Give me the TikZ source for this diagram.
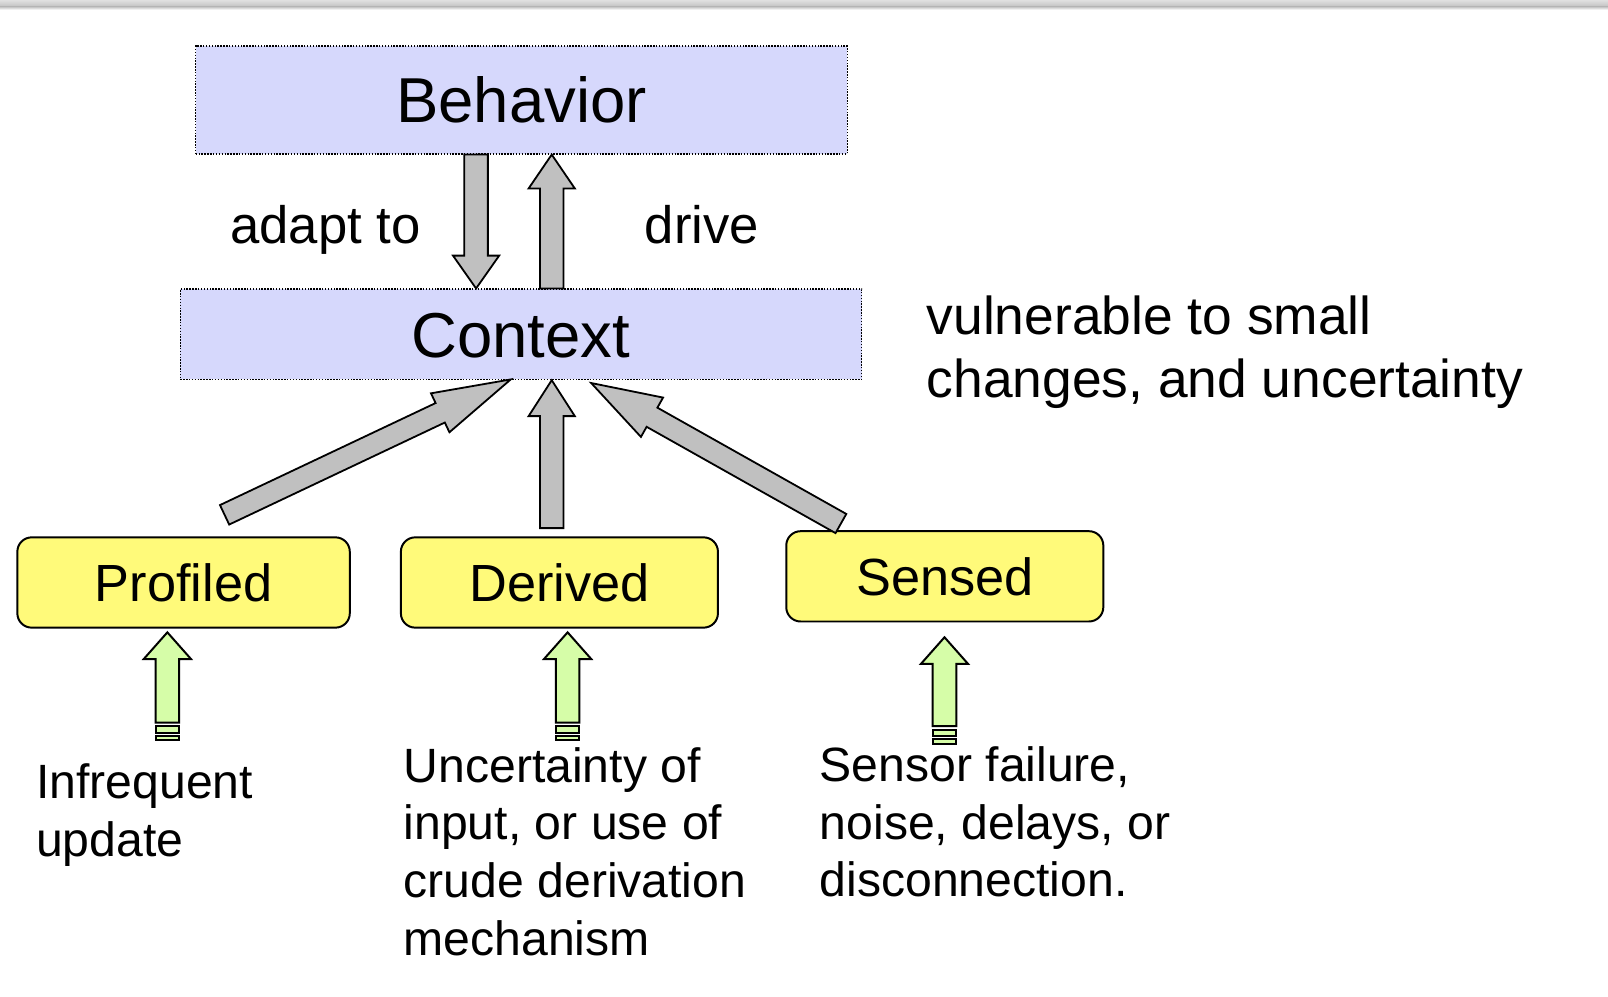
\documentclass[tikz,border=0pt]{standalone}
\usepackage{fontspec}
\setmainfont{Liberation Sans}
\usetikzlibrary{calc}

\definecolor{boxblue}{RGB}{214,216,252}
\definecolor{boxyellow}{RGB}{255,250,122}
\definecolor{arrowgray}{RGB}{192,192,192}
\definecolor{arrowgreen}{RGB}{214,253,168}

% Block arrow: #1 tail, #2 tip, #3 half shaft width, #4 half head width,
% #5 head length, #6 style
\newcommand\blockarrow[6]{%
  \coordinate (ba-base) at ($(#2)!#5!(#1)$);
  \draw[#6] ($(#1)!#3!90:(#2)$) -- ($(ba-base)!#3!90:(#2)$)
    -- ($(ba-base)!#4!90:(#2)$) -- (#2)
    -- ($(ba-base)!#4!-90:(#2)$) -- ($(ba-base)!#3!-90:(#2)$)
    -- ($(#1)!#3!-90:(#2)$) -- cycle;}

% Upward arrow with two stripes below its tail: #1 tail, #2 tip
\newcommand\stripedarrow[2]{%
  \blockarrow{#1}{#2}{0.115cm}{0.23cm}{0.26cm}{greenarrow}
  \draw[greenarrow] ($(#1)+(-11.5,3.5)$) rectangle ($(#1)+(11.5,10)$);
  \draw[greenarrow] ($(#1)+(-11.5,13)$) rectangle ($(#1)+(11.5,17.3)$);}

\tikzset{
  bluebox/.style={draw=black, line width=0.4pt, dash pattern=on 0.4pt off 0.4pt,
    fill=boxblue, inner sep=0pt, font=\fontsize{17.6pt}{20pt}\selectfont,
    text height=12.6pt, text depth=0pt},
  yellowbox/.style={draw=black, line width=0.55pt, fill=boxyellow,
    rounded corners=0.14cm, inner sep=0pt, minimum height=0.88cm,
    font=\fontsize{14.5pt}{17pt}\selectfont, text height=10.4pt, text depth=0pt},
  grayarrow/.style={draw=black, line width=0.5pt, fill=arrowgray, line join=miter},
  greenarrow/.style={draw=black, line width=0.55pt, fill=arrowgreen, line join=miter},
  midlabel/.style={inner sep=0pt, anchor=base west, font=\fontsize{14.6pt}{17pt}\selectfont},
  % multi-line labels are placed by the baseline of their last line
  sidelabel/.style={inner sep=0pt, anchor=base west, align=left,
    font=\fontsize{14.8pt}{17.6pt}\selectfont},
  notelabel/.style={inner sep=0pt, anchor=base west, align=left,
    font=\fontsize{13.35pt}{16pt}\selectfont},
}

\begin{document}
\begin{tikzpicture}[x=0.01cm, y=-0.01cm]
\useasboundingbox (0,0) rectangle (1568,972);

% slide header shadow
\shade[top color=black!12, bottom color=black!24] (0,0) rectangle (1568,6.5);
\shade[top color=black!24, bottom color=white] (0,6.5) rectangle (1568,9.5);

% boxes
\node[bluebox, minimum width=6.35cm, minimum height=1.05cm] (beh) at (508.5,97.5) {Behavior};
\node[bluebox, minimum width=6.64cm, minimum height=0.88cm] (ctx) at (508,326) {Context};
\node[yellowbox, minimum width=3.24cm] (prof) at (179,568) {Profiled};
\node[yellowbox, minimum width=3.09cm] (der) at (545.5,568) {Derived};
\node[yellowbox, minimum width=3.09cm] (sen) at (921.3,562) {Sensed};

% Behavior <-> Context
\coordinate (adaptTop) at (beh.south -| 464.25,0);
\coordinate (adaptTip) at (ctx.north -| 464.25,0);
\coordinate (driveTail) at (ctx.north -| 538,0);
\coordinate (driveTip) at (beh.south -| 538,0);
\blockarrow{adaptTop}{adaptTip}{0.115cm}{0.225cm}{0.32cm}{grayarrow}
\blockarrow{driveTail}{driveTip}{0.115cm}{0.225cm}{0.33cm}{grayarrow}

% sources feeding Context
\coordinate (profTail) at (219,502);
\coordinate (profTip) at (498,370);
\coordinate (derTail) at (538,515);
\coordinate (derTip) at (ctx.south -| 538,0);
\coordinate (senTail) at (820,510.5);
\coordinate (senTip) at (576.5,373.5);
\blockarrow{profTail}{profTip}{0.105cm}{0.21cm}{0.76cm}{grayarrow}
\blockarrow{derTail}{derTip}{0.115cm}{0.225cm}{0.35cm}{grayarrow}
\blockarrow{senTail}{senTip}{0.107cm}{0.22cm}{0.68cm}{grayarrow}

% weaknesses of each source
\coordinate (gpTail) at (163.2,704.7);
\coordinate (gpTip) at (163.2,616.6);
\coordinate (gdTail) at (553.5,704.7);
\coordinate (gdTip) at (553.5,616.6);
\coordinate (gsTail) at (921,708);
\coordinate (gsTip) at (921,621.4);
\stripedarrow{gpTail}{gpTip}
\stripedarrow{gdTail}{gdTip}
\stripedarrow{gsTail}{gsTip}

% labels
\node[midlabel] (adapt) at (224,237) {adapt to};
\node[midlabel] (drive) at (628,237) {drive};
\node[sidelabel] (vuln) at (903,388) {vulnerable to small\\changes, and uncertainty};
\node[notelabel] (infreq) at (34.6,835) {Infrequent\\update};
\node[notelabel] (uncert) at (393,931.5) {Uncertainty of\\input, or use of\\crude derivation\\mechanism};
\node[notelabel] (sensor) at (798.7,874.5) {Sensor failure,\\noise, delays, or\\disconnection.};
\end{tikzpicture}
\end{document}
